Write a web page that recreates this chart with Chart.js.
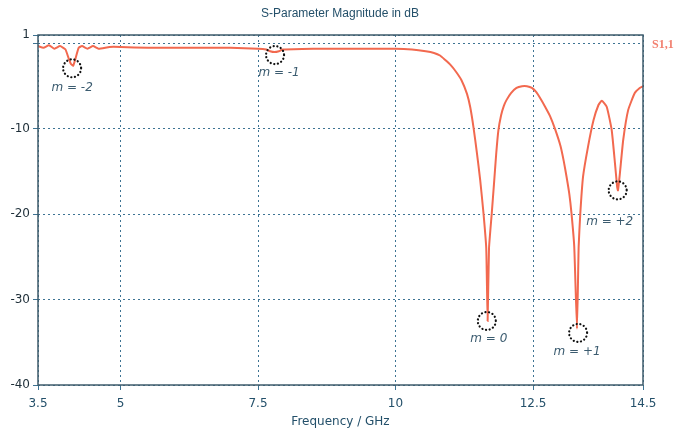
<!DOCTYPE html>
<html>
<head>
<meta charset="utf-8">
<script src="https://cdn.jsdelivr.net/npm/chart.js@4"></script>
<style>
  html, body { margin: 0; padding: 0; background: #fff; }
  #wrap { width: 681px; height: 431px; }
</style>
</head>
<body>
<div id="wrap"><canvas id="chartS11"></canvas></div>
<script>
// S11 samples (GHz, dB)
const freq = [
  3.5, 3.6, 3.7, 3.8, 3.9, 4.0, 4.05, 4.1, 4.14, 4.18, 4.24, 4.3, 4.4, 4.5, 4.6, 4.8,
  5.0, 5.5, 6.0, 6.5, 7.0, 7.5, 7.65, 7.72, 7.8, 7.88, 7.95, 8.5, 9.0, 9.5, 10.0, 10.3,
  10.55, 10.7, 10.81, 10.9, 11.0, 11.1, 11.2, 11.3, 11.36, 11.42, 11.48, 11.54, 11.6,
  11.65, 11.675, 11.7, 11.75, 11.79, 11.83, 11.87, 11.92, 11.97, 12.02, 12.1, 12.2, 12.3,
  12.39, 12.48, 12.56, 12.64, 12.72, 12.81, 12.9, 13.0, 13.06, 13.11, 13.16, 13.2, 13.25,
  13.3, 13.33, 13.36, 13.41, 13.5, 13.6, 13.69, 13.75, 13.84, 13.93, 13.99, 14.03, 14.045,
  14.08, 14.14, 14.23, 14.35, 14.44, 14.5
];
const s11 = [
  -0.3, -0.5, -0.2, -0.6, -0.3, -0.7, -1.6, -2.4, -2.6, -1.8, -0.5, -0.3, -0.6, -0.3, -0.6, -0.4,
  -0.4, -0.5, -0.5, -0.5, -0.5, -0.6, -0.7, -0.9, -1.0, -0.9, -0.7, -0.6, -0.6, -0.6, -0.6, -0.7,
  -0.9, -1.1, -1.4, -1.9, -2.5, -3.3, -4.3, -5.9, -7.5, -9.9, -12.8, -16, -19.9,
  -24, -32.5, -24, -19.9, -16.5, -13, -10.2, -8.4, -7.3, -6.6, -5.8, -5.2, -5.0,
  -5.0, -5.2, -5.7, -6.5, -7.4, -8.5, -10.0, -12.0, -13.8, -15.6, -17.6, -19.9, -23.8,
  -33.4, -23.8, -19.9, -15.6, -12.1, -9.0, -7.2, -6.7, -7.4, -10.1, -14.0, -16.8, -17.2,
  -15.2, -11.3, -7.8, -5.8, -5.2, -5.0
];

const xTicks = [3.5, 5, 7.5, 10, 12.5, 14.5];
const yTicks = [1, 0, -10, -20, -30, -40];

// order markers
const markerFreq = [4.12, 7.81, 11.66, 13.32, 14.04];
const markerDb = [-2.9, -1.35, -32.5, -33.9, -17.2];
const markerLabels = ['m = -2', 'm = -1', 'm = 0', 'm = +1', 'm = +2'];

const TEXT = '#24506a';
const GRID = '#3d7393';
const LINE = '#f2694f';

// label offset from each marker circle (px)
const labelOffsets = [[0, 20], [4, 18], [2, 18], [-1, 19], [-8, 32]];

const decorations = {
  id: 'decorations',
  afterDraw(chart) {
    const { ctx, chartArea: a, scales: { x, y } } = chart;
    ctx.save();
    // frame
    ctx.strokeStyle = '#3e5b6b';
    ctx.lineWidth = 1.5;
    ctx.setLineDash([]);
    ctx.strokeRect(a.left, a.top, a.right - a.left, a.bottom - a.top);

    // title
    ctx.fillStyle = TEXT;
    ctx.font = '12px "Liberation Sans", sans-serif';
    ctx.textAlign = 'center';
    ctx.textBaseline = 'middle';
    ctx.fillText('S-Parameter Magnitude in dB', 340, 14);

    // trace name
    ctx.fillStyle = '#f28070';
    ctx.font = 'bold 12px "Liberation Serif", serif';
    ctx.textAlign = 'left';
    ctx.fillText('S1,1', 652, y.getPixelForValue(0) + 1);

    // markers
    markerFreq.forEach((f, i) => {
      const px = x.getPixelForValue(f);
      const py = y.getPixelForValue(markerDb[i]);
      ctx.strokeStyle = '#111';
      ctx.lineWidth = 2.2;
      ctx.lineCap = 'round';
      ctx.setLineDash([0.1, 3.6]);
      ctx.beginPath();
      ctx.arc(px, py, 9, 0, Math.PI * 2);
      ctx.stroke();
      ctx.setLineDash([]);
      ctx.fillStyle = '#3c5c70';
      ctx.font = 'italic 12px "DejaVu Sans", sans-serif';
      ctx.textAlign = 'center';
      ctx.fillText(markerLabels[i], px + labelOffsets[i][0], py + labelOffsets[i][1]);
    });
    ctx.restore();
  }
};

new Chart(document.getElementById('chartS11'), {
  type: 'line',
  data: {
    datasets: [{
      label: 'S1,1',
      data: freq.map((f, i) => ({ x: f, y: s11[i] })),
      borderColor: LINE,
      borderWidth: 2,
      pointRadius: 0,
      tension: 0.15
    }]
  },
  options: {
    responsive: true,
    maintainAspectRatio: false,
    animation: false,
    layout: { padding: { top: 35, right: 38, left: 0, bottom: 0 } },
    plugins: { legend: { display: false }, tooltip: { enabled: false } },
    scales: {
      x: {
        type: 'linear',
        min: 3.5,
        max: 14.5,
        afterBuildTicks: s => { s.ticks = xTicks.map(v => ({ value: v })); },
        afterFit: s => { s.height = 46; },
        ticks: { color: TEXT, font: { size: 12, family: '"DejaVu Sans", sans-serif' }, padding: 7, maxRotation: 0 },
        grid: { color: GRID, lineWidth: 1, tickLength: 5 },
        border: { display: false, dash: [2, 3] },
        title: {
          display: true,
          text: 'Frequency / GHz',
          color: TEXT,
          font: { size: 12, family: '"DejaVu Sans", sans-serif' },
          padding: { top: 0, bottom: 2 }
        }
      },
      y: {
        min: -40,
        max: 1,
        afterBuildTicks: s => { s.ticks = yTicks.map(v => ({ value: v })); },
        afterFit: s => { s.width = 38; },
        ticks: {
          color: '#1e2e38',
          font: { size: 12, family: '"DejaVu Sans", sans-serif' },
          padding: 3,
          callback: v => (v === 0 ? '' : v)
        },
        grid: { color: GRID, lineWidth: 1, tickLength: 5 },
        border: { display: false, dash: [2, 3] }
      }
    }
  },
  plugins: [decorations]
});
</script>
</body>
</html>
